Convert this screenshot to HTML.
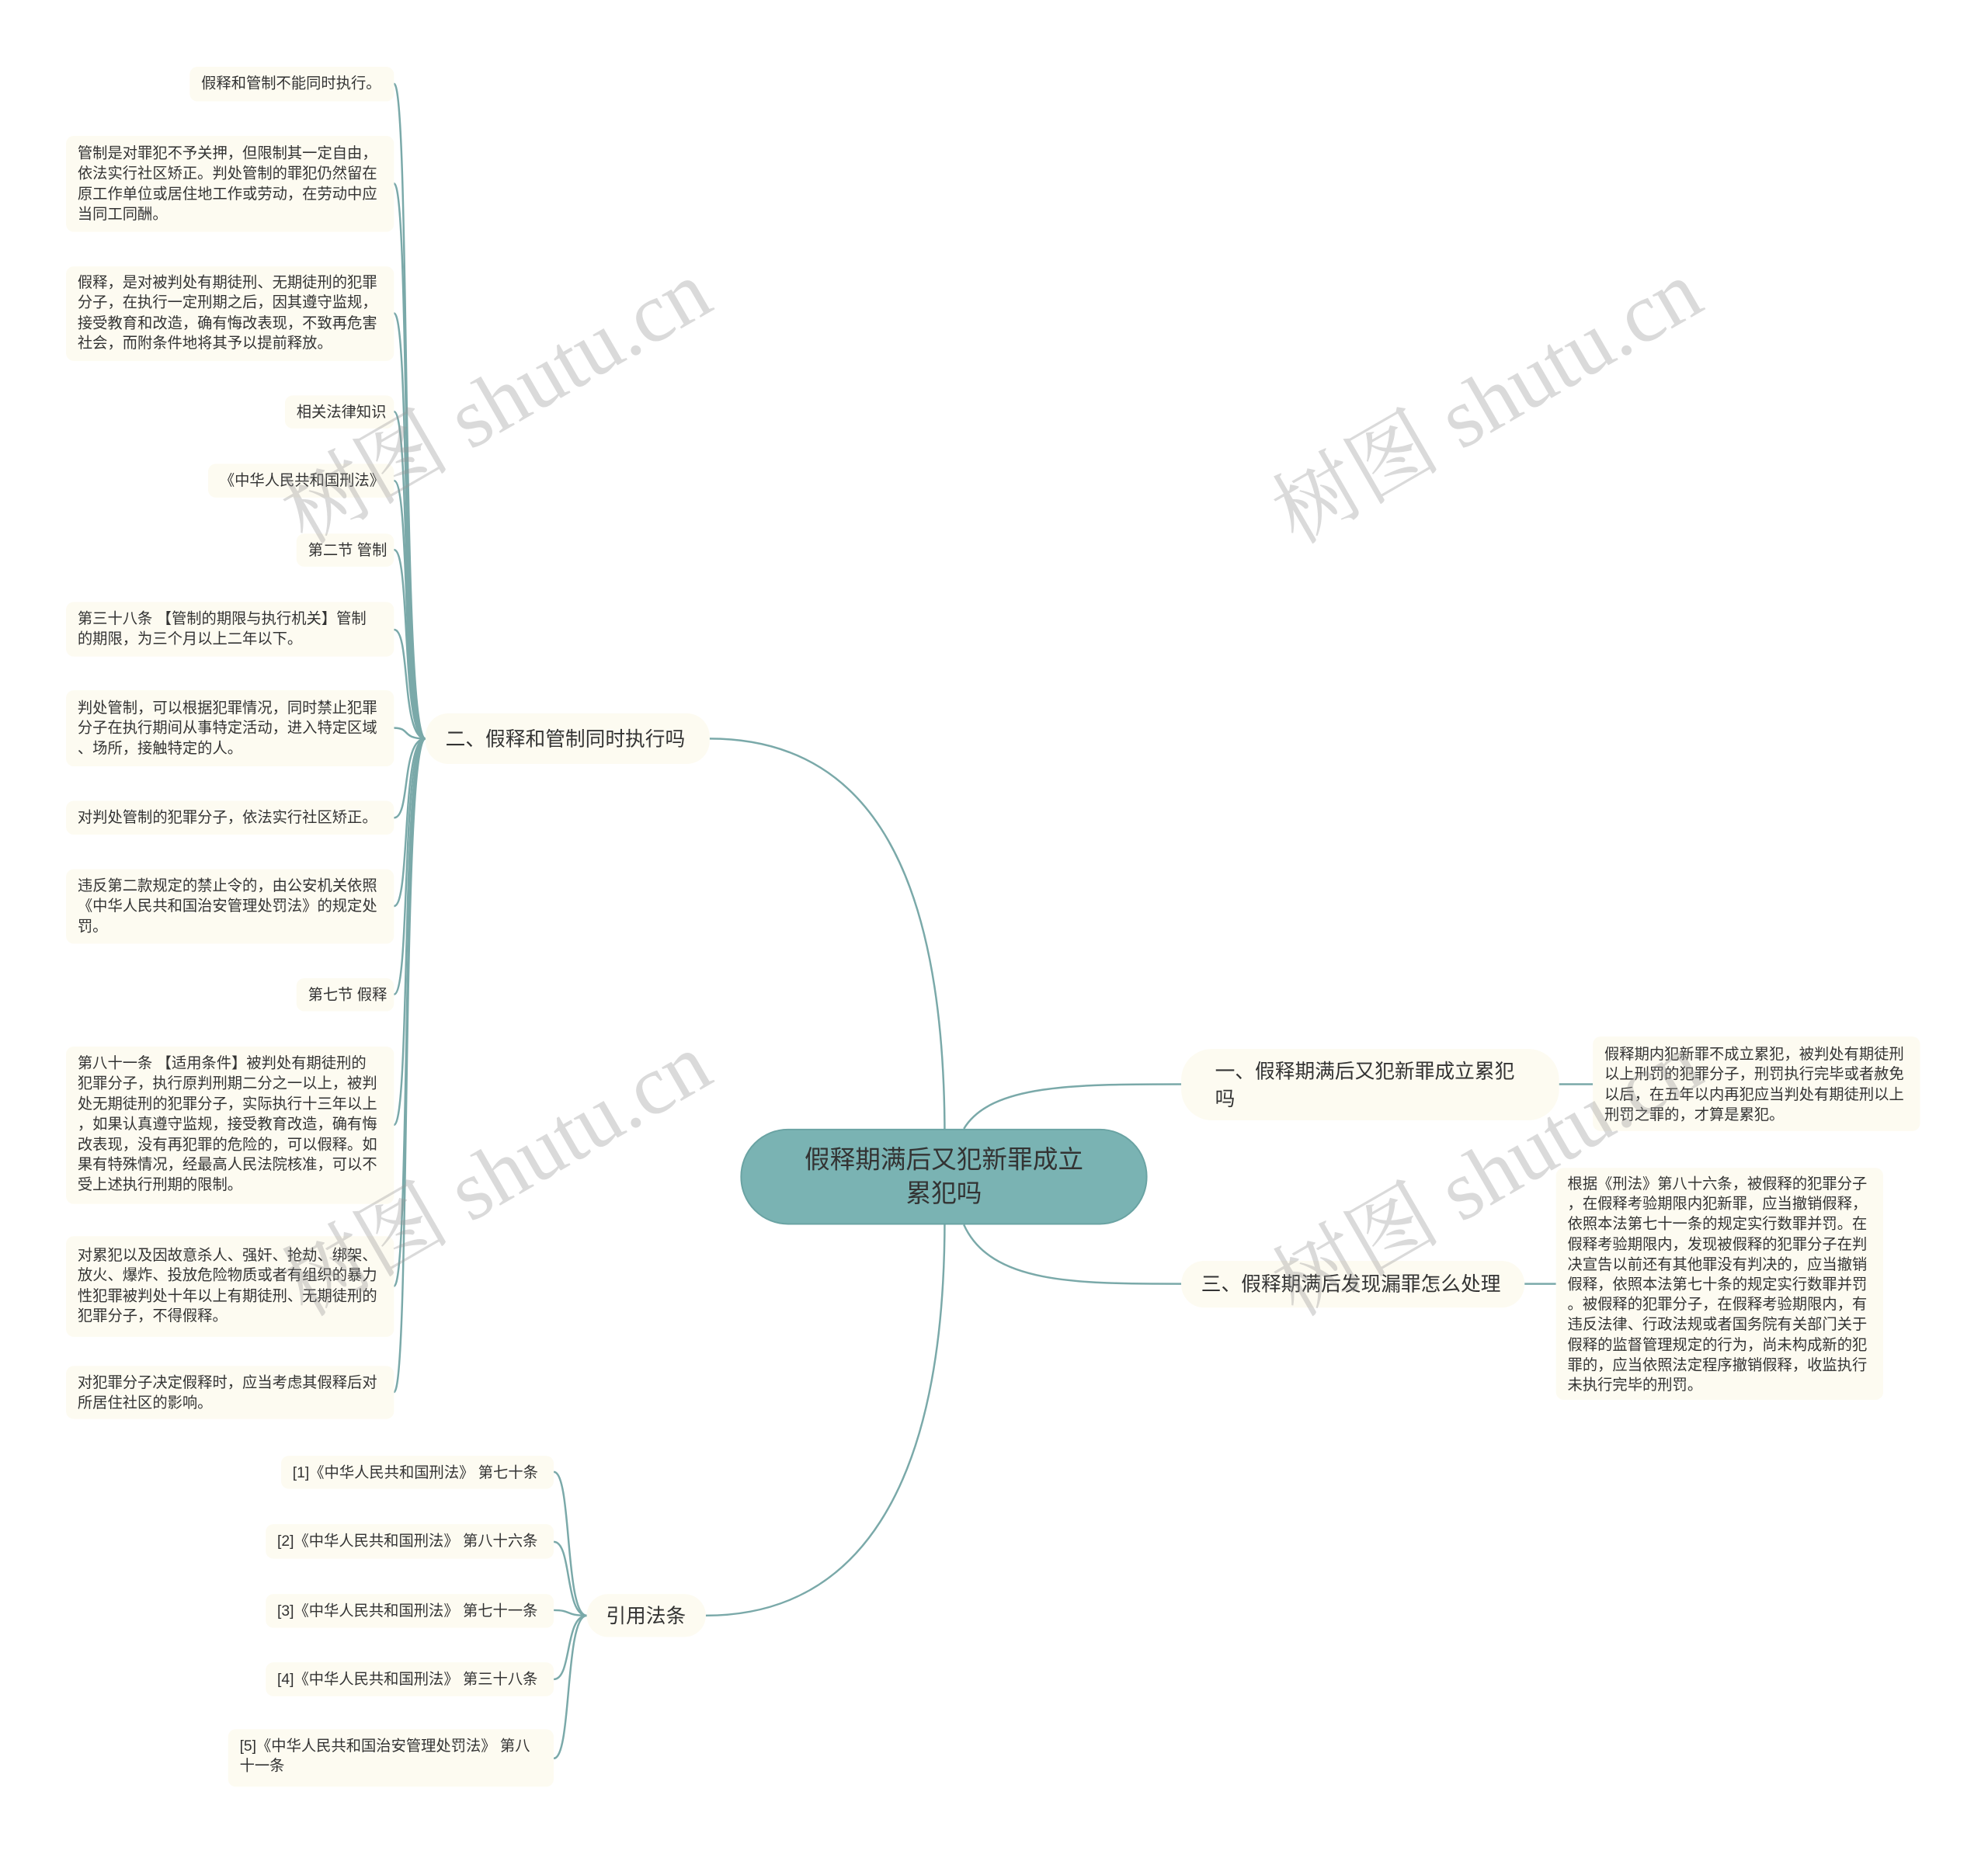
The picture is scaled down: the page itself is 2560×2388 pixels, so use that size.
<!DOCTYPE html>
<html style="overflow:hidden;width:2560px;height:2388px"><head><meta charset="utf-8"><style>
html,body{margin:0;padding:0}
#w{width:2560px;height:2388px;background:#fff;position:relative;overflow:hidden;font-family:"Liberation Sans","Noto Sans CJK SC",sans-serif;color:#333}
#s{position:absolute;left:0;top:0;width:2560px;height:2388px;transform:scale(0.989);transform-origin:0 0}
.n{position:absolute;background:#fdfbf1;border-radius:10px;font-size:19.5px;line-height:26.4px;padding:9px 15px;white-space:nowrap;box-sizing:border-box}
.b{position:absolute;background:#fdfbf1;border-radius:30px;font-size:26px;line-height:36px;white-space:nowrap;box-sizing:border-box}
</style></head><body><div id="w"><div id="s">
<svg width="2560" height="2388" style="position:absolute;left:0;top:0" fill="none" stroke="#7aa9a9" stroke-width="2.5">
<path d="M1230,1480 C1230,1100 1110,962 924,962"/>
<path d="M1230,1588 C1230,1950 1110,2104 919,2104"/>
<path d="M1255,1470 C1290,1412 1400,1412 1538,1412"/>
<path d="M1255,1595 C1290,1672 1400,1672 1538,1672"/>
<path d="M2030,1412 L2074,1412"/>
<path d="M1985,1672 L2026,1672"/>
<g>
<path d="M554,962 C522,962 535,109 513,109"/>
<path d="M554,962 C522,962 535,239 513,239"/>
<path d="M554,962 C522,962 535,408 513,408"/>
<path d="M554,962 C522,962 535,536 513,536"/>
<path d="M554,962 C522,962 535,626 513,626"/>
<path d="M554,962 C522,962 535,716 513,716"/>
<path d="M554,962 C522,962 535,820 513,820"/>
<path d="M554,962 C522,962 535,948 513,948"/>
<path d="M554,962 C522,962 535,1065 513,1065"/>
<path d="M554,962 C522,962 535,1180 513,1180"/>
<path d="M554,962 C522,962 535,1295 513,1295"/>
<path d="M554,962 C522,962 535,1465 513,1465"/>
<path d="M554,962 C522,962 535,1675 513,1675"/>
<path d="M554,962 C522,962 535,1813 513,1813"/>
<path d="M764,2104 C735,2104 745,1917 721,1917"/>
<path d="M764,2104 C735,2104 745,2008 721,2008"/>
<path d="M764,2104 C735,2104 745,2097 721,2097"/>
<path d="M764,2104 C735,2104 745,2187 721,2187"/>
<path d="M764,2104 C735,2104 745,2290 721,2290"/>
</g>
</svg>

<div class="n" style="left:247px;top:87px;width:266px;height:45px;">假释和管制不能同时执行。</div>
<div class="n" style="left:86px;top:177px;width:427px;height:125px;padding-top:10px">管制是对罪犯不予关押，但限制其一定自由，<br>依法实行社区矫正。判处管制的罪犯仍然留在<br>原工作单位或居住地工作或劳动，在劳动中应<br>当同工同酬。</div>
<div class="n" style="left:86px;top:347px;width:427px;height:123px;padding-top:8px">假释，是对被判处有期徒刑、无期徒刑的犯罪<br>分子，在执行一定刑期之后，因其遵守监规，<br>接受教育和改造，确有悔改表现，不致再危害<br>社会，而附条件地将其予以提前释放。</div>
<div class="n" style="left:371px;top:515px;width:142px;height:43px;">相关法律知识</div>
<div class="n" style="left:271px;top:604px;width:242px;height:44px;">《中华人民共和国刑法》</div>
<div class="n" style="left:386px;top:695px;width:127px;height:43px;">第二节 管制</div>
<div class="n" style="left:86px;top:784px;width:427px;height:71px;">第三十八条 【管制的期限与执行机关】管制<br>的期限，为三个月以上二年以下。</div>
<div class="n" style="left:86px;top:899px;width:427px;height:99px;padding-top:10px">判处管制，可以根据犯罪情况，同时禁止犯罪<br>分子在执行期间从事特定活动，进入特定区域<br>、场所，接触特定的人。</div>
<div class="n" style="left:86px;top:1043px;width:427px;height:44px;">对判处管制的犯罪分子，依法实行社区矫正。</div>
<div class="n" style="left:86px;top:1132px;width:427px;height:97px;">违反第二款规定的禁止令的，由公安机关依照<br>《中华人民共和国治安管理处罚法》的规定处<br>罚。</div>
<div class="n" style="left:386px;top:1274px;width:127px;height:43px;">第七节 假释</div>
<div class="n" style="left:86px;top:1363px;width:427px;height:205px;">第八十一条 【适用条件】被判处有期徒刑的<br>犯罪分子，执行原判刑期二分之一以上，被判<br>处无期徒刑的犯罪分子，实际执行十三年以上<br>，如果认真遵守监规，接受教育改造，确有悔<br>改表现，没有再犯罪的危险的，可以假释。如<br>果有特殊情况，经最高人民法院核准，可以不<br>受上述执行刑期的限制。</div>
<div class="n" style="left:86px;top:1610px;width:427px;height:131px;padding-top:12px">对累犯以及因故意杀人、强奸、抢劫、绑架、<br>放火、爆炸、投放危险物质或者有组织的暴力<br>性犯罪被判处十年以上有期徒刑、无期徒刑的<br>犯罪分子，不得假释。</div>
<div class="n" style="left:86px;top:1779px;width:427px;height:69px;">对犯罪分子决定假释时，应当考虑其假释后对<br>所居住社区的影响。</div>

<div class="b" style="left:554px;top:929px;width:370px;height:66px;padding:15px 26px;">二、假释和管制同时执行吗</div>
<div class="b" style="left:764px;top:2076px;width:155px;height:56px;padding:10px 25px;">引用法条</div>

<div class="n" style="left:366px;top:1896px;width:355px;height:43px;">[1]《中华人民共和国刑法》 第七十条</div>
<div class="n" style="left:346px;top:1985px;width:375px;height:45px;">[2]《中华人民共和国刑法》 第八十六条</div>
<div class="n" style="left:346px;top:2076px;width:375px;height:44px;">[3]《中华人民共和国刑法》 第七十一条</div>
<div class="n" style="left:346px;top:2165px;width:375px;height:44px;">[4]《中华人民共和国刑法》 第三十八条</div>
<div class="n" style="left:297px;top:2252px;width:424px;height:75px;">[5]《中华人民共和国治安管理处罚法》 第八<br>十一条</div>

<div style="position:absolute;left:964px;top:1470px;width:530px;height:125px;background:#7ab3b3;border:2px solid #6aa3a3;box-sizing:border-box;border-radius:62px;font-size:33px;line-height:44px;text-align:center;padding-top:16px;color:#333">假释期满后又犯新罪成立<br>累犯吗</div>

<div class="b" style="left:1538px;top:1366px;width:492px;height:93px;padding:11px 44px 0 44px;border-radius:40px;line-height:36px">一、假释期满后又犯新罪成立累犯<br>吗</div>
<div class="b" style="left:1538px;top:1642px;width:447px;height:61px;padding:12px 26px;">三、假释期满后发现漏罪怎么处理</div>

<div class="n" style="left:2074px;top:1350px;width:426px;height:123px;padding-top:10px">假释期内犯新罪不成立累犯，被判处有期徒刑<br>以上刑罚的犯罪分子，刑罚执行完毕或者赦免<br>以后，在五年以内再犯应当判处有期徒刑以上<br>刑罚之罪的，才算是累犯。</div>
<div class="n" style="left:2026px;top:1521px;width:426px;height:302px;line-height:26.2px;padding-top:8px">根据《刑法》第八十六条，被假释的犯罪分子<br>，在假释考验期限内犯新罪，应当撤销假释，<br>依照本法第七十一条的规定实行数罪并罚。在<br>假释考验期限内，发现被假释的犯罪分子在判<br>决宣告以前还有其他罪没有判决的，应当撤销<br>假释，依照本法第七十条的规定实行数罪并罚<br>。被假释的犯罪分子，在假释考验期限内，有<br>违反法律、行政法规或者国务院有关部门关于<br>假释的监督管理规定的行为，尚未构成新的犯<br>罪的，应当依照法定程序撤销假释，收监执行<br>未执行完毕的刑罚。</div>

<svg width="2560" height="2388" style="position:absolute;left:0;top:0;pointer-events:none" font-family="Liberation Serif, Noto Serif CJK SC, serif" font-size="110" fill="rgba(150,150,150,0.35)" text-anchor="middle">
<text x="650" y="560" transform="rotate(-30 650 530)">树图 shutu.cn</text>
<text x="1940" y="560" transform="rotate(-30 1940 530)">树图 shutu.cn</text>
<text x="650" y="1566" transform="rotate(-30 650 1536)">树图 shutu.cn</text>
<text x="1940" y="1566" transform="rotate(-30 1940 1536)">树图 shutu.cn</text>
</svg>
</div></div></body></html>
